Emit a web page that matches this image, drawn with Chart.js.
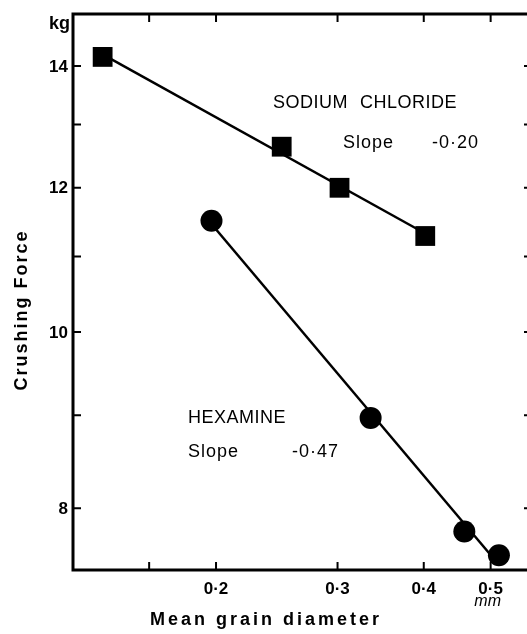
<!DOCTYPE html>
<html>
<head>
<meta charset="utf-8">
<title>Crushing force vs mean grain diameter</title>
<script src="https://cdn.jsdelivr.net/npm/chart.js@4.4.0/dist/chart.umd.min.js"></script>
<style>
  html, body { margin: 0; padding: 0; background: #fff; }
  #wrap { width: 527px; height: 634px; }
</style>
</head>
<body>
<div id="wrap"><canvas id="crushChart" width="527" height="634"></canvas></div>
<script>
// mean grain diameter (mm) against crushing force (kg), log-log
const saltDiameter = [0.137, 0.249, 0.302, 0.402];
const saltForce = [14.16, 12.64, 12.0, 11.29];
const hexDiameter = [0.197, 0.335, 0.458, 0.514];
const hexForce = [11.51, 8.97, 7.77, 7.54];

const saltSlopeText = '-0·20';
const hexSlopeText = '-0·47';

const xTickValues = [0.16, 0.2, 0.3, 0.4, 0.5];
const xTickLabels = ['', '0·2', '0·3', '0·4', '0·5'];
const yTickValues = [8, 9, 10, 11, 12, 13, 14];
const yTickLabels = ['8', '', '10', '', '12', '', '14'];

const boldFont = "bold 17px 'Liberation Sans', Arial, sans-serif";
const handFont = "18px 'Liberation Sans', Arial, sans-serif";

function points(xs, ys) {
  return xs.map((x, i) => ({ x: x, y: ys[i] }));
}

// least squares line in log-log space, drawn between the outer points
function fitLine(xs, ys) {
  const lx = xs.map(Math.log10), ly = ys.map(Math.log10);
  const n = lx.length;
  const mx = lx.reduce((a, b) => a + b) / n;
  const my = ly.reduce((a, b) => a + b) / n;
  let sxy = 0, sxx = 0;
  for (let i = 0; i < n; i++) {
    sxy += (lx[i] - mx) * (ly[i] - my);
    sxx += (lx[i] - mx) * (lx[i] - mx);
  }
  const b = sxy / sxx;
  return [Math.min(...xs), Math.max(...xs)].map(x => ({
    x: x, y: Math.pow(10, my + b * (Math.log10(x) - mx))
  }));
}

// frame with inward ticks, drawn under the markers
const framePlugin = {
  id: 'frame',
  beforeDatasetsDraw(chart) {
    const { ctx, chartArea: a, scales: { x, y } } = chart;
    ctx.save();
    ctx.strokeStyle = '#000';
    ctx.lineCap = 'square';
    ctx.lineWidth = 3;
    ctx.beginPath();
    ctx.moveTo(a.right + 2, a.top);
    ctx.lineTo(a.left, a.top);
    ctx.lineTo(a.left, a.bottom);
    ctx.lineTo(a.right + 2, a.bottom);
    ctx.stroke();

    ctx.lineWidth = 2;
    ctx.lineCap = 'butt';
    ctx.beginPath();
    yTickValues.forEach(v => {
      const py = y.getPixelForValue(v);
      ctx.moveTo(a.left, py);
      ctx.lineTo(a.left + 8, py);
      ctx.moveTo(a.right, py);
      ctx.lineTo(a.right - 3, py);
    });
    xTickValues.forEach(v => {
      const px = x.getPixelForValue(v);
      ctx.moveTo(px, a.bottom);
      ctx.lineTo(px, a.bottom - 8);
      ctx.moveTo(px, a.top);
      ctx.lineTo(px, a.top + 8);
    });
    ctx.stroke();
    ctx.restore();
  },
  afterDraw(chart) {
    const { ctx, chartArea: a, scales: { x, y } } = chart;
    ctx.save();
    ctx.fillStyle = '#000';

    // tick labels
    ctx.font = boldFont;
    ctx.textAlign = 'center';
    ctx.textBaseline = 'alphabetic';
    xTickValues.forEach((v, i) => {
      if (xTickLabels[i]) ctx.fillText(xTickLabels[i], x.getPixelForValue(v), a.bottom + 24);
    });
    ctx.textAlign = 'right';
    ctx.textBaseline = 'middle';
    yTickValues.forEach((v, i) => {
      if (yTickLabels[i]) ctx.fillText(yTickLabels[i], a.left - 5, y.getPixelForValue(v) + 1);
    });

    // units
    ctx.font = "bold 18px 'Liberation Sans', Arial, sans-serif";
    ctx.textBaseline = 'alphabetic';
    ctx.fillText('kg', a.left - 3, 29);

    ctx.font = "italic 16px 'Liberation Sans', Arial, sans-serif";
    ctx.textAlign = 'center';
    ctx.fillText('mm', x.getPixelForValue(0.5) - 3, 606);

    // axis titles
    ctx.font = "bold 18px 'Liberation Sans', Arial, sans-serif";
    ctx.letterSpacing = '3px';
    ctx.textAlign = 'center';
    ctx.textBaseline = 'middle';
    ctx.fillText('Mean grain diameter', 266, 620);
    ctx.letterSpacing = '2px';
    ctx.translate(22, 310);
    ctx.rotate(-Math.PI / 2);
    ctx.fillText('Crushing Force', 0, 0);
    ctx.restore();

    // series notes
    ctx.save();
    ctx.fillStyle = '#000';
    ctx.font = handFont;
    ctx.textAlign = 'left';
    ctx.textBaseline = 'alphabetic';
    ctx.letterSpacing = '0.5px';
    ctx.fillText('SODIUM', 273, 108);
    ctx.fillText('CHLORIDE', 360, 108);
    ctx.letterSpacing = '1px';
    ctx.fillText('Slope', 343, 148);
    ctx.fillText(saltSlopeText, 432, 148);
    ctx.letterSpacing = '0.5px';
    ctx.fillText('HEXAMINE', 188, 423);
    ctx.letterSpacing = '1px';
    ctx.fillText('Slope', 188, 457);
    ctx.fillText(hexSlopeText, 292, 457);
    ctx.restore();
  }
};

const ctx = document.getElementById('crushChart').getContext('2d');
new Chart(ctx, {
  type: 'scatter',
  data: {
    datasets: [
      {
        label: 'Sodium chloride fit',
        data: fitLine(saltDiameter, saltForce),
        showLine: true,
        pointRadius: 0,
        borderColor: '#000',
        borderWidth: 2.5
      },
      {
        label: 'Hexamine fit',
        data: fitLine(hexDiameter, hexForce),
        showLine: true,
        pointRadius: 0,
        borderColor: '#000',
        borderWidth: 2.5
      },
      {
        label: 'Sodium chloride',
        data: points(saltDiameter, saltForce),
        pointStyle: 'rect',
        pointRadius: 14,
        backgroundColor: '#000',
        borderWidth: 0,
        clip: false
      },
      {
        label: 'Hexamine',
        data: points(hexDiameter, hexForce),
        pointStyle: 'circle',
        pointRadius: 11,
        backgroundColor: '#000',
        borderWidth: 0,
        clip: false
      }
    ]
  },
  options: {
    responsive: false,
    animation: false,
    layout: {
      autoPadding: false,
      padding: { top: 14, right: 0, left: 0, bottom: 0 }
    },
    plugins: {
      legend: { display: false },
      tooltip: { enabled: false }
    },
    scales: {
      x: {
        type: 'logarithmic',
        min: 0.1241,
        max: 0.5645,
        afterBuildTicks: s => { s.ticks = xTickValues.map(v => ({ value: v })); },
        afterFit: s => { s.height = 64; },
        grid: { display: false, drawTicks: false },
        border: { display: false },
        ticks: { display: false }
      },
      y: {
        type: 'logarithmic',
        min: 7.41,
        max: 14.95,
        afterBuildTicks: s => { s.ticks = yTickValues.map(v => ({ value: v })); },
        afterFit: s => { s.width = 73; },
        grid: { display: false, drawTicks: false },
        border: { display: false },
        ticks: { display: false }
      }
    }
  },
  plugins: [framePlugin]
});
</script>
</body>
</html>
